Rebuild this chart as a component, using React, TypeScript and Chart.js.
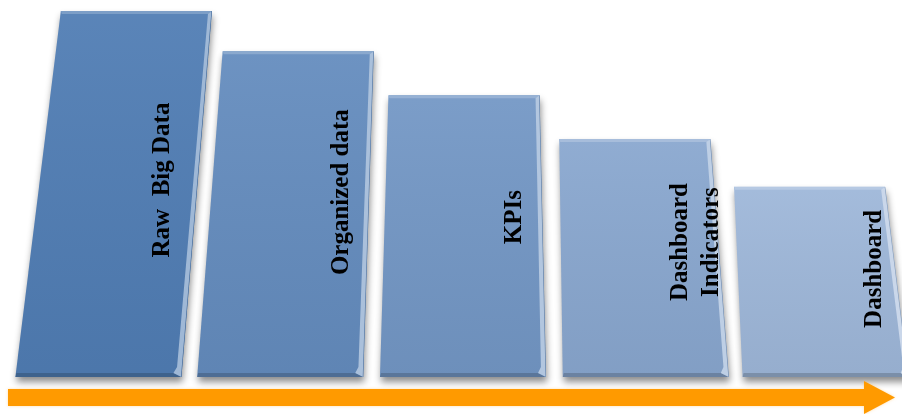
import React, { useEffect, useRef } from "react";
import { Chart, registerables } from "chart.js";

Chart.register(...registerables);

// ---- data ----
const categories: string[][] = [
  ["Raw  Big Data"],
  ["Organized data"],
  ["KPIs"],
  ["Dashboard", "Indicators"],
  ["Dashboard"],
];
const values: number[] = [100, 89, 77, 65, 52];

// ---- styles ----
const barColors: string[] = ["#507db4", "#648cbe", "#7397c5", "#89a7cf", "#9eb7d9"];
const topShift: number[] = [21, 8, -1, -5, -5];
const bottomShift: number[] = [-17, -10, -2, 6, 11];
const topWidthRatio = 0.91;
const labelDx: number[] = [47, 51, 50, 56, 60];
const labelDy: number[] = [-14, -22, -19, -16, -13];
const labelFont = 'bold 25px "Liberation Serif", "Times New Roman", serif';
const labelLineHeight = 31;
const arrowColor = "#ff9a00";

function mix(hex: string, target: number, amt: number): string {
  const n = parseInt(hex.slice(1), 16);
  const r = (n >> 16) & 255, g = (n >> 8) & 255, b = n & 255;
  const f = (c: number) => Math.round(c + (target - c) * amt);
  return `rgb(${f(r)},${f(g)},${f(b)})`;
}

const skewPlugin = {
  id: "skewBars",
  beforeDatasetDraw(chart: any, args: any) {
    const ctx: CanvasRenderingContext2D = chart.ctx;
    const meta = args.meta;
    meta.data.forEach((el: any, i: number) => {
      const { x, y, base, width } = el.getProps(["x", "y", "base", "width"], true);
      const col = barColors[i];
      const tw = width * topWidthRatio;
      const tl = x - tw / 2 + topShift[i];
      const tr = x + tw / 2 + topShift[i];
      const bl = x - width / 2 + bottomShift[i];
      const br = x + width / 2 + bottomShift[i];
      const poly = () => {
        ctx.beginPath();
        ctx.moveTo(tl, y);
        ctx.lineTo(tr, y);
        ctx.lineTo(br, base);
        ctx.lineTo(bl, base);
        ctx.closePath();
      };
      // shadow + body
      ctx.save();
      ctx.shadowColor = "rgba(0,0,0,0.45)";
      ctx.shadowBlur = 7;
      ctx.shadowOffsetY = 5;
      ctx.shadowOffsetX = 1;
      ctx.fillStyle = col;
      poly();
      ctx.fill();
      ctx.restore();
      // subtle vertical shading
      ctx.save();
      poly();
      ctx.clip();
      const g = ctx.createLinearGradient(0, y, 0, base);
      g.addColorStop(0, "rgba(255,255,255,0.06)");
      g.addColorStop(1, "rgba(0,0,0,0.05)");
      ctx.fillStyle = g;
      ctx.fillRect(Math.min(tl, bl) - 2, y, Math.max(tr, br) - Math.min(tl, bl) + 4, base - y);
      // top edge highlight
      ctx.fillStyle = mix(col, 255, 0.25);
      ctx.beginPath();
      ctx.moveTo(tl, y);
      ctx.lineTo(tr, y);
      ctx.lineTo(tr - 3, y + 3);
      ctx.lineTo(tl + 1, y + 3);
      ctx.closePath();
      ctx.fill();
      // bottom dark edge
      ctx.fillStyle = mix(col, 0, 0.22);
      ctx.beginPath();
      ctx.moveTo(bl, base);
      ctx.lineTo(br, base);
      ctx.lineTo(br - 8, base - 4);
      ctx.lineTo(bl + 1, base - 4);
      ctx.closePath();
      ctx.fill();
      // right highlight strip
      ctx.fillStyle = mix(col, 255, 0.45);
      ctx.beginPath();
      ctx.moveTo(tr - 4, y + 3);
      ctx.lineTo(tr, y);
      ctx.lineTo(br, base);
      ctx.lineTo(br - 8, base - 4);
      ctx.lineTo(br - 5 - (br - tr) * 0.02, base - 10);
      ctx.closePath();
      ctx.fill();
      ctx.strokeStyle = mix(col, 0, 0.15);
      ctx.lineWidth = 1;
      ctx.beginPath();
      ctx.moveTo(tr, y);
      ctx.lineTo(br, base);
      ctx.stroke();
      ctx.restore();
    });
    return false;
  },
  afterDatasetsDraw(chart: any) {
    const ctx: CanvasRenderingContext2D = chart.ctx;
    const meta = chart.getDatasetMeta(0);
    const labels = chart.data.labels as string[][];
    ctx.save();
    ctx.font = labelFont;
    ctx.fillStyle = "#000";
    ctx.textAlign = "center";
    ctx.textBaseline = "middle";
    meta.data.forEach((el: any, i: number) => {
      const { x, y, base } = el.getProps(["x", "y", "base"], true);
      const lines = labels[i];
      const cx = x + labelDx[i];
      const cy = (y + base) / 2 + labelDy[i];
      ctx.save();
      ctx.translate(cx, cy);
      ctx.rotate(-Math.PI / 2);
      const n = lines.length;
      lines.forEach((ln, k) => {
        ctx.fillText(ln, 0, (k - (n - 1) / 2) * labelLineHeight);
      });
      ctx.restore();
    });
    ctx.restore();
  },
  afterDraw(chart: any) {
    const ctx: CanvasRenderingContext2D = chart.ctx;
    const a = chart.chartArea;
    const top = a.bottom + 12;
    const bot = a.bottom + 29;
    const mid = (top + bot) / 2;
    const shaftEnd = 864;
    ctx.save();
    ctx.shadowColor = "rgba(255,190,90,0.5)";
    ctx.shadowBlur = 3;
    ctx.fillStyle = arrowColor;
    ctx.beginPath();
    ctx.moveTo(8, top);
    ctx.lineTo(shaftEnd, top);
    ctx.lineTo(shaftEnd, mid - 16.5);
    ctx.lineTo(895, mid);
    ctx.lineTo(shaftEnd, mid + 16.5);
    ctx.lineTo(shaftEnd, bot);
    ctx.lineTo(8, bot);
    ctx.closePath();
    ctx.fill();
    ctx.restore();
  },
};

export default function App() {
  const ref = useRef<HTMLCanvasElement | null>(null);
  useEffect(() => {
    if (!ref.current) return;
    const chart = new Chart(ref.current, {
      type: "bar",
      data: {
        labels: categories as any,
        datasets: [
          {
            data: values,
            backgroundColor: barColors,
            barPercentage: 0.95,
            categoryPercentage: 1,
          },
        ],
      },
      options: {
        animation: false,
        responsive: false,
        devicePixelRatio: 1,
        layout: { padding: { left: 28, right: 0, top: 11, bottom: 37 } },
        scales: {
          x: { display: false },
          y: { display: false, min: 0, max: 100 },
        },
        plugins: { legend: { display: false }, tooltip: { enabled: false } },
      },
      plugins: [skewPlugin],
    });
    return () => chart.destroy();
  }, []);
  return (
    <div style={{ position: "fixed", left: 0, top: 0, width: 902, height: 414, background: "#fff" }}>
      <canvas ref={ref} width={902} height={414} style={{ display: "block" }} />
    </div>
  );
}
